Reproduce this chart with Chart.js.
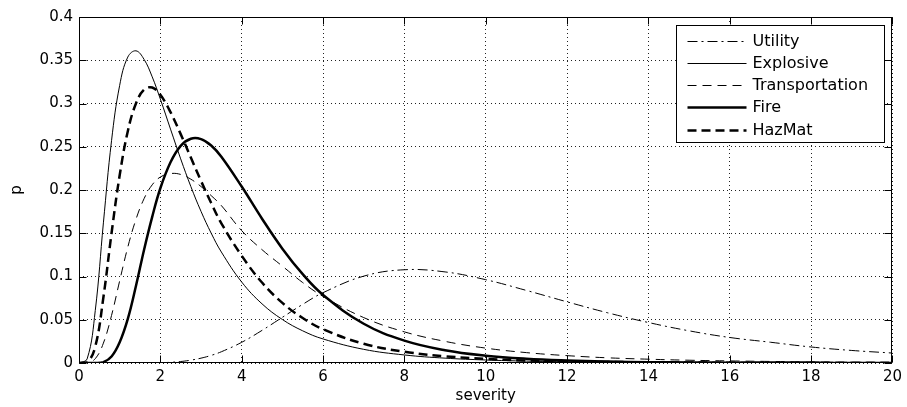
<!DOCTYPE html>
<html>
<head>
<meta charset="utf-8">
<script src="https://cdn.jsdelivr.net/npm/chart.js@4.4.0/dist/chart.umd.min.js"></script>
<style>
  html, body { margin: 0; padding: 0; background: #fff; }
  #wrap { width: 907px; height: 407px; }
</style>
</head>
<body>
<div id="wrap"><canvas id="chart" width="907" height="407"></canvas></div>
<script>
// severity values the curves are sampled at
const severity = [0, 0.2, 0.4, 0.6, 0.8, 1, 1.2, 1.4, 1.6, 1.8, 2, 2.25, 2.5, 2.75, 3, 3.25, 3.5,
  4, 4.5, 5, 5.5, 6, 7, 8, 9, 10, 11, 12, 13, 14, 15, 16, 17, 18, 19, 20];

// probability
const utility = [0, 0, 0, 0, 0, 0, 0, 0.0001, 0.0001, 0.0002, 0.0003, 0.0008, 0.0017, 0.0033, 0.0056, 0.0088, 0.013,
  0.0239, 0.0377, 0.0528, 0.0678, 0.0813, 0.1004, 0.1078, 0.1053, 0.0963, 0.0839, 0.0707, 0.058, 0.0468, 0.0372,
  0.0295, 0.024, 0.0185, 0.0145, 0.0115];
const explosive = [0, 0.0047, 0.0607, 0.162, 0.257, 0.321, 0.3537, 0.3609, 0.351, 0.3308, 0.3051, 0.2704, 0.236,
  0.204, 0.1753, 0.1501, 0.1283, 0.0936, 0.0684, 0.0503, 0.0372, 0.0278, 0.0158, 0.0093, 0.0056, 0.0035, 0.0022,
  0.0014, 0.0009, 0.0006, 0.0004, 0.0003, 0.0002, 0.0001, 0.0001, 0.0001];
const transportation = [0, 0.0001, 0.005, 0.023, 0.055, 0.095, 0.134, 0.166, 0.19, 0.206, 0.215, 0.219, 0.218,
  0.2125, 0.204, 0.1935, 0.182, 0.153, 0.131, 0.112, 0.093, 0.077, 0.0525, 0.036, 0.025, 0.0172, 0.012, 0.0085,
  0.006, 0.0044, 0.0032, 0.0024, 0.0018, 0.0013, 0.001, 0.0008];
const fire = [0, 0, 0, 0.001, 0.0075, 0.024, 0.051, 0.089, 0.131, 0.169, 0.202, 0.232, 0.251, 0.2592, 0.2588,
  0.2515, 0.2385, 0.204, 0.1668, 0.1322, 0.1027, 0.0787, 0.0454, 0.0259, 0.0148, 0.0085, 0.0049, 0.0029, 0.0017,
  0.001, 0.0006, 0.0004, 0.0003, 0.0002, 0.0001, 0.0001];
const hazmat = [0, 0.0005, 0.019, 0.076, 0.15, 0.217, 0.268, 0.3, 0.316, 0.3185, 0.31, 0.29, 0.2646, 0.2375,
  0.2105, 0.185, 0.1615, 0.124, 0.093, 0.0695, 0.052, 0.039, 0.0222, 0.013, 0.0078, 0.0047, 0.0029, 0.0018,
  0.0012, 0.0008, 0.0005, 0.0004, 0.0003, 0.0002, 0.0001, 0.0001];

const seriesNames = ['Utility', 'Explosive', 'Transportation', 'Fire', 'HazMat'];
const xTicks = [0, 2, 4, 6, 8, 10, 12, 14, 16, 18, 20];
const yTicks = [0, 0.05, 0.1, 0.15, 0.2, 0.25, 0.3, 0.35, 0.4];
const yTickLabels = ['0', '0.05', '0.1', '0.15', '0.2', '0.25', '0.3', '0.35', '0.4'];

// line styles, matlab-ish
const lineStyles = [
  { width: 1, dash: [10, 4, 2, 4] },
  { width: 1, dash: [] },
  { width: 1, dash: [9, 6] },
  { width: 2.5, dash: [] },
  { width: 2.5, dash: [9, 5] }
];

function toPoints(values) {
  return severity.map((x, i) => ({ x: x, y: values[i] }));
}

const allSeries = [utility, explosive, transportation, fire, hazmat];
const datasets = allSeries.map((values, i) => ({
  label: seriesNames[i],
  data: toPoints(values),
  borderColor: '#000',
  borderWidth: lineStyles[i].width,
  borderDash: lineStyles[i].dash,
  pointRadius: 0,
  fill: false,
  tension: 0.4
}));

// box, inward ticks and the legend inside the axes
const matlabFrame = {
  id: 'matlabFrame',
  afterDraw(chart) {
    const ctx = chart.ctx;
    const a = chart.chartArea;
    const xs = chart.scales.x, ys = chart.scales.y;
    const L = Math.round(a.left) + 0.5, R = Math.round(a.right) - 0.5;
    const T = Math.round(a.top) + 0.5, B = Math.round(a.bottom) - 0.5;
    const tick = 7;
    ctx.save();
    ctx.setLineDash([]);
    ctx.strokeStyle = '#000';
    ctx.lineWidth = 1;
    ctx.strokeRect(L, T, R - L, B - T);
    ctx.beginPath();
    xTicks.forEach(v => {
      const px = Math.round(xs.getPixelForValue(v)) + 0.5;
      ctx.moveTo(px, B); ctx.lineTo(px, B - tick);
      ctx.moveTo(px, T); ctx.lineTo(px, T + tick);
    });
    yTicks.forEach(v => {
      const py = Math.round(ys.getPixelForValue(v)) + 0.5;
      ctx.moveTo(L, py); ctx.lineTo(L + tick, py);
      ctx.moveTo(R, py); ctx.lineTo(R - tick, py);
    });
    ctx.stroke();

    // legend
    const boxW = 208, boxH = 117;
    const bx = Math.round(a.right) - 8 - boxW + 0.5;
    const by = Math.round(a.top) + 8 + 0.5;
    ctx.fillStyle = '#fff';
    ctx.fillRect(bx, by, boxW, boxH);
    ctx.strokeRect(bx, by, boxW, boxH);
    ctx.font = '16px "DejaVu Sans"';
    ctx.textBaseline = 'middle';
    ctx.textAlign = 'left';
    ctx.fillStyle = '#000';
    chart.data.datasets.forEach((ds, i) => {
      const cy = Math.round(by + 15 + i * 22.3);
      ctx.beginPath();
      ctx.lineWidth = ds.borderWidth;
      ctx.setLineDash(ds.borderDash);
      ctx.moveTo(bx + 11, cy + 0.5);
      ctx.lineTo(bx + 70, cy + 0.5);
      ctx.stroke();
      ctx.setLineDash([]);
      ctx.fillText(ds.label, bx + 76, cy + 1);
    });
    ctx.restore();
  }
};

Chart.defaults.font.family = '"DejaVu Sans"';
Chart.defaults.color = '#000';

new Chart(document.getElementById('chart'), {
  type: 'line',
  data: { datasets: datasets },
  options: {
    responsive: false,
    animation: false,
    devicePixelRatio: 1,
    layout: { padding: { top: 17, right: 9, left: 0, bottom: 0 } },
    plugins: {
      legend: { display: false },
      tooltip: { enabled: false }
    },
    scales: {
      x: {
        type: 'linear',
        min: 0,
        max: 20,
        afterBuildTicks: s => { s.ticks = xTicks.map(v => ({ value: v })); },
        afterFit: s => { s.height = 44; },
        ticks: { font: { size: 15 }, padding: 5, maxRotation: 0, autoSkip: false },
        grid: { color: '#222', lineWidth: 1, drawTicks: false },
        border: { display: false, dash: [1, 3] },
        title: { display: true, text: 'severity', font: { size: 15 }, padding: { top: 0, bottom: 2 } }
      },
      y: {
        type: 'linear',
        min: 0,
        max: 0.4,
        afterBuildTicks: s => { s.ticks = yTicks.map(v => ({ value: v })); },
        afterFit: s => { s.width = 79; },
        ticks: {
          font: { size: 15 },
          padding: 6,
          autoSkip: false,
          callback: (v, i) => yTickLabels[i]
        },
        grid: { color: '#222', lineWidth: 1, drawTicks: false },
        border: { display: false, dash: [1, 3] },
        title: { display: true, text: 'p', font: { size: 15 }, padding: { top: 8, bottom: 0 } }
      }
    }
  },
  plugins: [matlabFrame]
});
</script>
</body>
</html>
